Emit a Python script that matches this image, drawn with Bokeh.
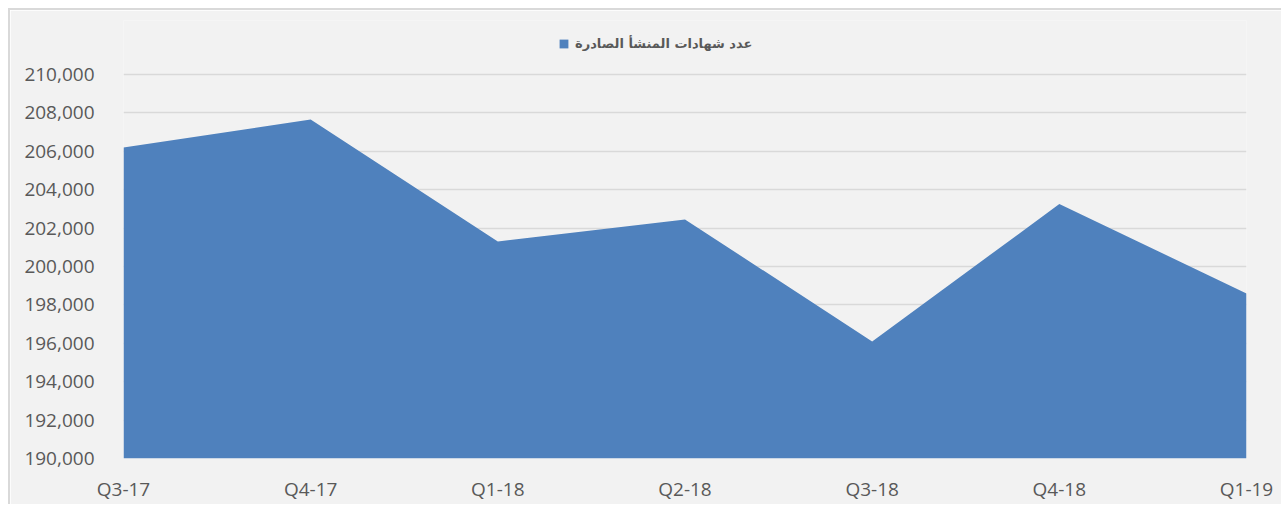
from bokeh.plotting import figure
from bokeh.models import Range1d, FixedTicker, NumeralTickFormatter, Legend, LegendItem
from bokeh.embed import file_html
from bokeh.resources import INLINE

categories = ["Q3-17", "Q4-17", "Q1-18", "Q2-18", "Q3-18", "Q4-18", "Q1-19"]
values = [206200, 207650, 201300, 202450, 196100, 203250, 198600]
series_name = "عدد شهادات المنشأ الصادرة"
y_ticks = [190000, 192000, 194000, 196000, 198000, 200000, 202000, 204000, 206000, 208000, 210000]

xs = list(range(len(categories)))

# the frame extends above the top tick so the legend can sit inside it
p = figure(width=1273, height=496, output_backend="svg", toolbar_location=None,
           x_range=Range1d(0, len(categories) - 1), y_range=Range1d(190000, 212812.5),
           background_fill_color="#f2f2f2", border_fill_color="#f2f2f2",
           min_border_left=113, min_border_right=37, min_border_top=10, min_border_bottom=48)
p.styles = {"border-left": "2px solid #d9d9d9", "border-top": "2px solid #d9d9d9",
            "position": "relative", "left": "8px", "top": "8px"}
p.outline_line_color = None

r = p.varea(x=xs, y1=[190000] * len(xs), y2=values, fill_color="#4f81bd")

p.xaxis.ticker = FixedTicker(ticks=xs)
p.xaxis.major_label_overrides = {i: c for i, c in enumerate(categories)}
p.yaxis.ticker = FixedTicker(ticks=y_ticks)
p.yaxis.formatter = NumeralTickFormatter(format="0,0")

for ax in (p.xaxis[0], p.yaxis[0]):
    ax.axis_line_color = None
    ax.major_tick_line_color = None
    ax.minor_tick_line_color = None
    ax.major_label_text_font = "Open Sans"
    ax.major_label_text_font_size = "19px"
    ax.major_label_text_color = "#595959"
p.yaxis.major_label_standoff = 23
p.xaxis.major_label_standoff = 11

p.xgrid.grid_line_color = None
p.ygrid.grid_line_color = "#d9d9d9"
p.ygrid.grid_line_width = 1.5

legend = Legend(items=[LegendItem(label=series_name, renderers=[r])],
                location=(435, 407), orientation="horizontal",
                background_fill_alpha=0, border_line_color=None,
                padding=0, margin=0, glyph_width=11, glyph_height=11, label_standoff=6,
                label_text_font="DejaVu Sans", label_text_font_style="bold",
                label_text_font_size="13px", label_text_color="#595959")
p.add_layout(legend, "center")

open("out.html", "w").write(file_html(p, INLINE))
